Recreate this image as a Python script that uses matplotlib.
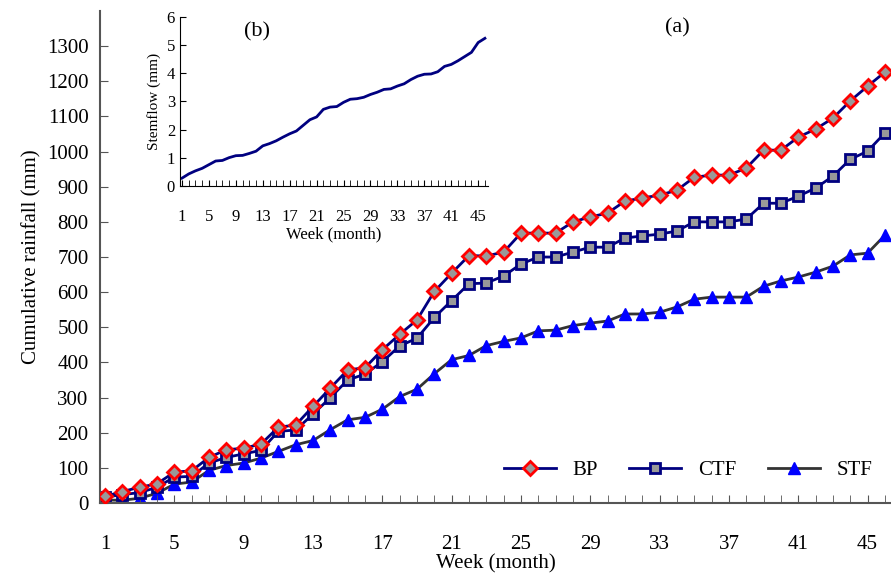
import matplotlib
matplotlib.use("Agg")
import matplotlib.pyplot as plt
import numpy as np

plt.rcParams['font.family'] = ['Liberation Serif', 'DejaVu Serif']

weeks = list(range(1, 47))
bp = [19, 33, 45, 55, 88, 92, 130, 152, 156, 168, 216, 222, 275, 327, 379, 385, 436, 480, 521, 602,
      654, 704, 703, 714, 768, 768, 768, 800, 814, 825, 859, 868, 876, 890, 927, 933, 933, 953,
      1004, 1004, 1041, 1064, 1095, 1144, 1186, 1226]
ctf = [17, 24, 30, 45, 74, 76, 114, 130, 140, 150, 204, 208, 253, 300, 350, 367, 402, 447, 469, 528,
       576, 624, 626, 646, 680, 700, 700, 714, 728, 728, 754, 760, 765, 774, 800, 800, 800, 808,
       853, 853, 873, 896, 930, 978, 1001, 1053]
stf = [9, 8, 14, 28, 54, 60, 93, 107, 114, 128, 147, 166, 178, 209, 237, 244, 267, 303, 324, 368,
       408, 420, 448, 460, 470, 490, 492, 505, 512, 518, 538, 538, 543, 558, 580, 586, 586, 586,
       617, 632, 643, 657, 674, 706, 711, 762]
stemflow = [0.27, 0.42, 0.53, 0.62, 0.75, 0.88, 0.9, 1.0, 1.07, 1.08, 1.15, 1.23, 1.42, 1.5, 1.6,
            1.73, 1.85, 1.95, 2.15, 2.35, 2.45, 2.72, 2.8, 2.82, 2.97, 3.08, 3.1, 3.15, 3.25, 3.33,
            3.43, 3.45, 3.55, 3.63, 3.78, 3.9, 3.97, 3.98, 4.06, 4.25, 4.32, 4.45, 4.6, 4.75, 5.1, 5.25]
xticks = list(range(1, 47, 4))

fig = plt.figure(figsize=(8.91, 5.75), dpi=100)
ax = fig.add_axes([0.112, 0.125, 0.888, 0.856])
ax.plot(weeks, bp, color='#000080', lw=2, marker='D', ms=7, mfc='#999999', mec='red', mew=2, label='BP', zorder=3)
ax.plot(weeks, ctf, color='#000080', lw=2, marker='s', ms=7, mfc='#999999', mec='#000080', mew=2, label='CTF', zorder=2)
ax.plot(weeks, stf, color='#333333', lw=2, marker='^', ms=8, mfc='blue', mec='blue', label='STF', zorder=1)
ax.set_xlim(0.7, 46.35)
ax.set_ylim(0, 1400)
ax.set_yticks(range(0, 1301, 100))
ax.set_xticks(xticks)
ax.set_xticks(weeks, minor=True)
ax.tick_params(direction='in', labelsize=15, length=6, color='#555555')
ax.tick_params(axis='x', pad=23)
ax.tick_params(axis='y', pad=8)
ax.tick_params(which='minor', direction='in', length=6, color='#555555')
for s in ['top', 'right']:
    ax.spines[s].set_visible(False)
for s in ['left', 'bottom']:
    ax.spines[s].set_color('#555555'); ax.spines[s].set_linewidth(1.5)
ax.set_xlabel('Week (month)', fontsize=15, labelpad=0)
ax.set_ylabel('Cumulative rainfall (mm)', fontsize=15, labelpad=4)
ax.legend(loc='center right', ncol=3, frameon=False, fontsize=15, bbox_to_anchor=(1.0, 0.067),
          handlelength=2.5, columnspacing=1.5)
ax.text(0.73, 0.985, '(a)', transform=ax.transAxes, fontsize=16, ha='center', va='top')

ins = fig.add_axes([0.202, 0.677, 0.346, 0.293])
ins.plot(weeks, stemflow, color='#000080', lw=2)
ins.set_xlim(0.7, 46.5)
ins.set_ylim(0, 6)
ins.set_yticks(range(0, 7))
ins.set_xticks(xticks)
ins.set_xticks(weeks, minor=True)
ins.tick_params(direction='in', labelsize=12, length=4)
ins.tick_params(axis='x', pad=17)
ins.tick_params(which='minor', direction='in', length=4)
for s in ['top', 'right']:
    ins.spines[s].set_visible(False)
ins.set_xlabel('Week (month)', fontsize=12, labelpad=1)
ins.set_ylabel('Stemflow (mm)', fontsize=11)
ins.text(0.25, 0.97, '(b)', transform=ins.transAxes, fontsize=16, ha='center', va='top')

fig.savefig('out.png', dpi=100)
